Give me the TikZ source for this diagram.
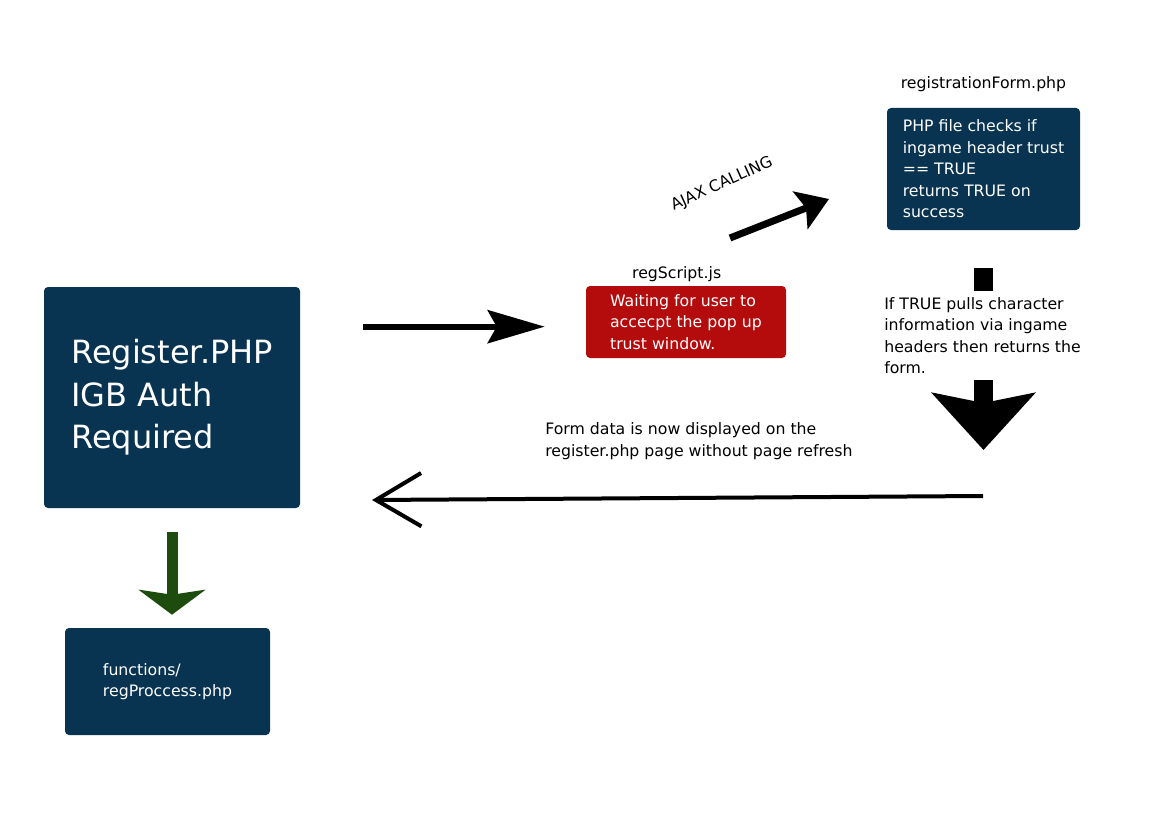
\documentclass[tikz,border=0pt]{standalone}
\usepackage{fontspec}
\setmainfont{DejaVu Sans}
\usetikzlibrary{positioning,arrows.meta}
\definecolor{boxblue}{RGB}{8,51,81}
\definecolor{boxred}{RGB}{180,12,12}
\definecolor{arrgreen}{RGB}{30,76,14}
\tikzset{
	box/.style={rounded corners=3pt, fill=boxblue, text=white, align=left, inner sep=0pt},
	body/.style={font=\fontsize{11.8}{16.1}\selectfont},
}

\begin{document}
\begin{tikzpicture}[x=0.75pt,y=-0.75pt]
	%%%%% START %%%%%
	\def\shaft{4.5pt}
	\def\ajaxw{5.25pt}
	\def\downw{14.25pt}
	\def\greenw{8.25pt}
	\def\backw{3pt}

	\fill[white] (0,0) rectangle (1153,813);
	\useasboundingbox (0,0) rectangle (1153,813);

	\node[box, minimum width=192pt, minimum height=165.75pt, font=\fontsize{24}{32}\selectfont] (reg) at (172,397.5) {Register.PHP\\IGB Auth\\Required};
	\node[box, body, minimum width=153.75pt, minimum height=80.25pt] (fn) at (167.5,681.5) {functions/\\regProccess.php};
	\node[box, body, fill=boxred, minimum width=150pt, minimum height=54pt] (wait) at (686,322) {Waiting for user to\\accecpt the pop up\\trust window.};
	\node[box, body, minimum width=144.75pt, minimum height=91.5pt] (form) at (983.5,169) {PHP file checks if\\ingame header trust\\== TRUE\\returns TRUE on\\success};

	\node[body, inner sep=0pt, above=3pt of wait, xshift=-7pt] (waitlbl) {regScript.js};
	\node[body, inner sep=0pt, above=12pt of form] (formlbl) {registrationForm.php};

	\coordinate (back) at (983,496);
	\coordinate (ret) at (372,500);
	\coordinate (ajaxs) at (730,238);
	\coordinate (ajaxe) at (829,199);

	\draw[line width=\shaft, -{Stealth[length=42.75pt,width=24.75pt,inset=6.75pt]}, shorten <=47.25pt, shorten >=30.75pt] ([yshift=-3.5pt]reg.east |- wait.west) -- ([yshift=-3.5pt]wait.west);

	\draw[line width=\ajaxw, -{Stealth[length=23pt,width=30pt,inset=4.5pt]}] (ajaxs) -- (ajaxe);
	\node[body, rotate=24.5] (ajax) at (722,184) {AJAX CALLING};

	\draw[line width=\downw, -{Stealth[length=42.75pt,width=77pt,inset=7.5pt]}, shorten <=28.5pt, shorten >=34.5pt] (form.south) -- (form.south |- back);
	\node[body, fill=white, align=left, anchor=north west, inner xsep=0pt, inner ysep=4.5pt] (pull) at (884,291) {If TRUE pulls character\\information via ingame\\headers then returns the\\form.};

	\node[body, align=left, anchor=west, inner sep=0pt] (shown) at (545,441) {Form data is now displayed on the\\register.php page without page refresh};
	\draw[line width=\backw, -{Straight Barb[length=34pt,width=40pt]}] (back) -- (ret);

	\draw[arrgreen, line width=\greenw, -{Stealth[length=18.75pt,width=50pt,inset=3.75pt]}, shorten <=18pt, shorten >=9.75pt] (reg.south) -- (reg.south |- fn.north);
	%%%%% START %%%%%
\end{tikzpicture}
\end{document}
